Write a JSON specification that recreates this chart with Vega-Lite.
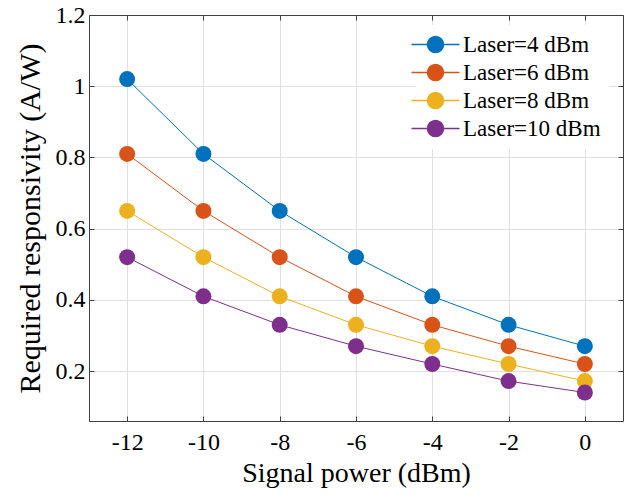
{
  "$schema": "https://vega.github.io/schema/vega-lite/v6.json",
  "width": 534,
  "height": 406,
  "autosize": "none",
  "padding": {"left": 89, "top": 15, "right": 11, "bottom": 75},
  "background": "white",
  "config": {"view": {"stroke": null}, "font": "Times New Roman, Liberation Serif, serif"},
  "data": {
    "values": [
      {"p": -12, "r": 1.02, "s": "Laser=4 dBm"},
      {"p": -10, "r": 0.81, "s": "Laser=4 dBm"},
      {"p": -8, "r": 0.65, "s": "Laser=4 dBm"},
      {"p": -6, "r": 0.52, "s": "Laser=4 dBm"},
      {"p": -4, "r": 0.41, "s": "Laser=4 dBm"},
      {"p": -2, "r": 0.33, "s": "Laser=4 dBm"},
      {"p": 0, "r": 0.27, "s": "Laser=4 dBm"},
      {"p": -12, "r": 0.81, "s": "Laser=6 dBm"},
      {"p": -10, "r": 0.65, "s": "Laser=6 dBm"},
      {"p": -8, "r": 0.52, "s": "Laser=6 dBm"},
      {"p": -6, "r": 0.41, "s": "Laser=6 dBm"},
      {"p": -4, "r": 0.33, "s": "Laser=6 dBm"},
      {"p": -2, "r": 0.27, "s": "Laser=6 dBm"},
      {"p": 0, "r": 0.22, "s": "Laser=6 dBm"},
      {"p": -12, "r": 0.65, "s": "Laser=8 dBm"},
      {"p": -10, "r": 0.52, "s": "Laser=8 dBm"},
      {"p": -8, "r": 0.41, "s": "Laser=8 dBm"},
      {"p": -6, "r": 0.33, "s": "Laser=8 dBm"},
      {"p": -4, "r": 0.27, "s": "Laser=8 dBm"},
      {"p": -2, "r": 0.22, "s": "Laser=8 dBm"},
      {"p": 0, "r": 0.172, "s": "Laser=8 dBm"},
      {"p": -12, "r": 0.52, "s": "Laser=10 dBm"},
      {"p": -10, "r": 0.41, "s": "Laser=10 dBm"},
      {"p": -8, "r": 0.33, "s": "Laser=10 dBm"},
      {"p": -6, "r": 0.27, "s": "Laser=10 dBm"},
      {"p": -4, "r": 0.22, "s": "Laser=10 dBm"},
      {"p": -2, "r": 0.172, "s": "Laser=10 dBm"},
      {"p": 0, "r": 0.14, "s": "Laser=10 dBm"}
    ]
  },
  "layer": [
    {
      "mark": {"type": "line", "strokeWidth": 1, "point": {"filled": true, "size": 256, "opacity": 1}},
      "encoding": {
        "x": {
          "field": "p", "type": "quantitative",
          "scale": {"domain": [-13, 1], "nice": false, "zero": false},
          "axis": {
            "orient": "bottom", "values": [-12, -10, -8, -6, -4, -2, 0],
            "labelExpr": "datum.value + ''",
            "grid": true, "gridColor": "#e0e0e0", "gridWidth": 1,
            "domainColor": "#404040", "domainWidth": 1,
            "tickColor": "#404040", "tickSize": -5,
            "labelFont": "Times New Roman, Liberation Serif, serif", "labelFontSize": 24, "labelColor": "#000000", "labelPadding": 14,
            "title": "Signal power (dBm)", "titleFont": "Times New Roman, Liberation Serif, serif", "titleFontSize": 28,
            "titleFontWeight": "normal", "titleColor": "#000000", "titlePadding": 5
          }
        },
        "y": {
          "field": "r", "type": "quantitative",
          "scale": {"domain": [0.06, 1.2], "nice": false, "zero": false},
          "axis": {
            "orient": "left", "values": [0.2, 0.4, 0.6, 0.8, 1, 1.2],
            "format": "~g",
            "grid": true, "gridColor": "#e0e0e0", "gridWidth": 1,
            "domainColor": "#404040", "domainWidth": 1,
            "tickColor": "#404040", "tickSize": -5,
            "labelFont": "Times New Roman, Liberation Serif, serif", "labelFontSize": 24, "labelColor": "#000000", "labelPadding": 9,
            "title": "Required responsivity (A/W)", "titleFont": "Times New Roman, Liberation Serif, serif", "titleFontSize": 30,
            "titleFontWeight": "normal", "titleColor": "#000000", "titlePadding": 10
          }
        },
        "color": {
          "field": "s", "type": "nominal",
          "scale": {
            "domain": ["Laser=4 dBm", "Laser=6 dBm", "Laser=8 dBm", "Laser=10 dBm"],
            "range": ["#0072BD", "#D95319", "#EDB120", "#7E2F8E"]
          },
          "legend": {
            "title": null, "orient": "none", "legendX": 327, "legendY": 10,
            "padding": 8, "fillColor": "white", "strokeColor": null,
            "symbolType": "M -3 0 L 3 0 M -1 0 A 1 1 0 1 1 1 0 A 1 1 0 1 1 -1 0 Z",
            "symbolSize": 256, "symbolStrokeWidth": 1.5, "symbolOpacity": 1,
            "labelFont": "Times New Roman, Liberation Serif, serif", "labelFontSize": 23, "labelColor": "#000000",
            "labelOffset": 16, "rowPadding": 4,
            "encode": {
              "symbols": {"update": {"stroke": {"scale": "color", "field": "value"}, "fill": {"scale": "color", "field": "value"}, "opacity": {"value": 1}}}
            }
          }
        }
      }
    },
    {
      "mark": {"type": "point", "opacity": 0},
      "encoding": {
        "x": {
          "field": "p", "type": "quantitative",
          "axis": {
            "orient": "top", "values": [-12, -10, -8, -6, -4, -2, 0], "labels": false,
            "grid": false, "title": null, "domainColor": "#404040", "domainWidth": 1,
            "tickColor": "#404040", "tickSize": -5
          }
        },
        "y": {
          "field": "r", "type": "quantitative",
          "axis": {
            "orient": "right", "values": [0.2, 0.4, 0.6, 0.8, 1, 1.2], "labels": false,
            "grid": false, "title": null, "domainColor": "#404040", "domainWidth": 1,
            "tickColor": "#404040", "tickSize": -5
          }
        }
      }
    }
  ],
  "resolve": {"axis": {"x": "independent", "y": "independent"}}
}
